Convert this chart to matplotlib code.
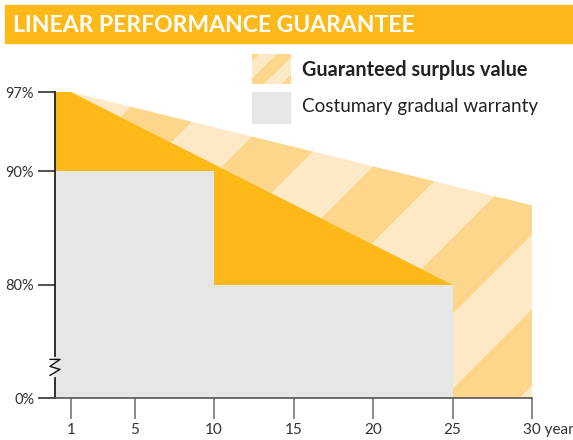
import numpy as np
import matplotlib
matplotlib.use('Agg')
import matplotlib.pyplot as plt
from matplotlib.patches import Polygon, Rectangle
from matplotlib.lines import Line2D
import matplotlib.transforms as mtransforms

plt.rcParams['font.family'] = ['Lato', 'DejaVu Sans']

ORANGE = '#FCB918'
STRIPE_DARK = np.array([252, 214, 139]) / 255.0
STRIPE_LIGHT = np.array([253, 233, 197]) / 255.0
GRAY = '#E5E6E8'
TXT = '#333333'

# data (percent of nominal power vs. years)
linear_years = [1, 25]
linear_guarantee = [97, 80]
step_years = [0, 10, 10, 25]
step_warranty = [90, 90, 80, 80]
surplus_years = [1, 30]
surplus_top = [97, 87]
ytick_values = [0, 80, 90, 97]
ytick_labels = ['0%', '80%', '90%', '97%']
xtick_values = [1, 5, 10, 15, 20, 25, 30]
xtick_labels = ['1', '5', '10', '15', '20', '25', '30 years']


def ymap(v):
    # broken axis: 80..97 linear, 0 squeezed just below 80
    v = np.asarray(v, dtype=float)
    return np.where(v >= 80, v, 70 + v * 10 / 80)


BOTTOM = float(ymap(0))
W, H = 573, 440

fig = plt.figure(figsize=(W / 100, H / 100), dpi=100)
fig.patch.set_facecolor('white')


def stripes(x0, y0, w, h, phase=237, period=151):
    xx, yy = np.meshgrid(np.arange(w) + x0, np.arange(h) + y0)
    c = xx + yy
    dark = ((c - phase) % period) < period / 2
    return np.where(dark[..., None], STRIPE_DARK, STRIPE_LIGHT)


# title banner
fig.patches.append(Rectangle((5 / W, 1 - 43 / H), 1 - 5 / W, 38 / H,
                             transform=fig.transFigure, color=ORANGE, zorder=0))
fig.text(13 / W, 1 - 32 / H, 'LINEAR PERFORMANCE GUARANTEE', color='white',
         fontsize=16.5, fontweight='bold', va='baseline', ha='left')

ax = fig.add_axes([55 / W, 1 - 398 / H, 477 / W, 306 / H])
ax.set_xlim(0, 30)
ax.set_ylim(BOTTOM, 97)

# guaranteed linear line (solid orange)
orange_pts = [(0, 97)] + list(zip(linear_years, ymap(linear_guarantee))) + [(25, BOTTOM), (0, BOTTOM)]
ax.add_patch(Polygon(orange_pts, closed=True, facecolor=ORANGE, edgecolor='none', zorder=2))

# surplus area (striped)
surplus_pts = list(zip(surplus_years, ymap(surplus_top))) + [(30, BOTTOM), (25, BOTTOM),
                                                             (linear_years[1], float(ymap(linear_guarantee[1])))]
clip = Polygon(surplus_pts, closed=True, facecolor='none', edgecolor='none')
ax.add_patch(clip)
bb = ax.get_window_extent()
img = stripes(int(round(bb.x0)), int(round(H - bb.y1)), int(round(bb.width)), int(round(bb.height)))
im = ax.imshow(img, extent=(0, 30, BOTTOM, 97), aspect='auto', origin='upper',
               interpolation='nearest', zorder=1)
im.set_clip_path(clip)

# customary step warranty (gray)
gray_pts = [(0, BOTTOM)] + list(zip(step_years, ymap(step_warranty))) + [(25, BOTTOM)]
ax.add_patch(Polygon(gray_pts, closed=True, facecolor=GRAY, edgecolor='none', zorder=3))

ax.set_xlim(0, 30)
ax.set_ylim(BOTTOM, 97)

# axes styling
for s in ['top', 'right']:
    ax.spines[s].set_visible(False)
ax.spines['left'].set_color('#111111')
ax.spines['left'].set_linewidth(1.2)
ax.spines['left'].set_zorder(5)
ax.spines['bottom'].set_color('#555555')
ax.spines['bottom'].set_linewidth(1.2)
ax.spines['bottom'].set_zorder(5)

ax.set_yticks(ymap(ytick_values))
ax.set_yticklabels(ytick_labels)
ax.tick_params(axis='y', length=12, width=1.2, color='#333333', pad=3,
               labelsize=10.5, labelcolor=TXT)
ax.yaxis.get_major_ticks()[-1].tick1line.set_color('#888888')

ax.set_xticks(xtick_values)
ax.set_xticklabels(xtick_labels)
ax.tick_params(axis='x', length=15, width=1.2, color='#777777', pad=3,
               labelsize=11, labelcolor=TXT)
last = ax.get_xticklabels()[-1]
last.set_ha('left')
last.set_transform(last.get_transform() + mtransforms.ScaledTranslation(-9 / 100, 0, fig.dpi_scale_trans))

# axis break mark
bx, by = ax.transData.transform((0, 72.7))
zig = np.array([(-5, 8), (5, 8), (-5, 1), (5, -2), (-5, -8)])
gap = Line2D([bx / W, bx / W], [(by - 9) / H, (by + 9) / H], transform=fig.transFigure,
             color=GRAY, lw=1.6, zorder=6)
zz = Line2D((bx + zig[:, 0]) / W, (by + zig[:, 1]) / H, transform=fig.transFigure,
            color='#111111', lw=1.0, zorder=7)
fig.lines.extend([gap, zz])

# legend
lax = fig.add_axes([252 / W, 1 - 84 / H, 38 / W, 30 / H])
lax.imshow(stripes(252, 54, 38, 30, phase=262, period=34), aspect='auto', interpolation='nearest')
lax.axis('off')
fig.patches.append(Rectangle((252 / W, 1 - 123 / H), 38 / W, 31 / H,
                             transform=fig.transFigure, color=GRAY))
fig.text(302 / W, 1 - 70 / H, 'Guaranteed surplus value', fontsize=14.3, fontweight='bold',
         color='#222222', va='center', ha='left')
fig.text(302 / W, 1 - 106 / H, 'Costumary gradual warranty', fontsize=13.6,
         color='#222222', va='center', ha='left')

fig.savefig('out.png', dpi=100)
